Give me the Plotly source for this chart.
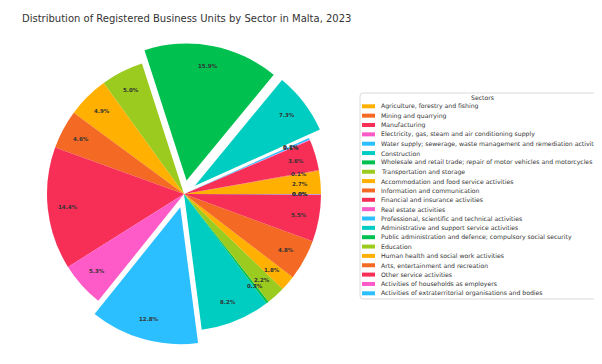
import math
import plotly.graph_objects as go

# ---------------- data ----------------
sectors = [
    "Agriculture, forestry and fishing",
    "Mining and quarrying",
    "Manufacturing",
    "Electricity, gas, steam and air conditioning supply",
    "Water supply; sewerage, waste management and remediation activities",
    "Construction",
    "Wholesale and retail trade; repair of motor vehicles and motorcycles",
    "Transportation and storage",
    "Accommodation and food service activities",
    "Information and communication",
    "Financial and insurance activities",
    "Real estate activities",
    "Professional, scientific and technical activities",
    "Administrative and support service activities",
    "Public administration and defence; compulsory social security",
    "Education",
    "Human health and social work activities",
    "Arts, entertainment and recreation",
    "Other service activities",
    "Activities of households as employers",
    "Activities of extraterritorial organisations and bodies",
]
shares = [2.7, 0.1, 3.6, 0.1, 0.2, 7.3, 15.9, 5.0, 4.9, 4.6, 14.4,
          5.3, 12.8, 8.2, 0.3, 2.2, 1.8, 4.8, 5.5, 0.04, 0.04]
exploded = ["Construction",
            "Wholesale and retail trade; repair of motor vehicles and motorcycles",
            "Professional, scientific and technical activities"]
legend_title = "Sectors"
chart_title = "Distribution of Registered Business Units by Sector in Malta, 2023"

# ---------------- style ----------------
palette = ["#FFB000", "#F46A25", "#F72F56", "#FF5BC8",
           "#2BBFFF", "#00CDC2", "#00C050", "#9BCB1F"]
colors = [palette[i % len(palette)] for i in range(len(sectors))]
pull_amt = 0.1
pulls = [pull_amt if s in exploded else 0 for s in sectors]

W, H = 602, 364
cx, cy, R = 176, 186, 137          # pie centre / radius in px
half = R * (1 + max(pulls))        # plotly shrinks radius by (1 + max pull)
pct_dist = 0.85
FONT = "DejaVu Sans"
LEG_FS = 6.15

total = sum(shares)
# first slice should start at 3 o'clock and run counter-clockwise
rot = 90 - 360 * shares[0] / total

fig = go.Figure(go.Pie(
    labels=sectors, values=shares, sort=False,
    direction="counterclockwise", rotation=rot,
    pull=pulls, marker=dict(colors=colors, line=dict(width=0)),
    textinfo="none", hoverinfo="label+percent",
    domain=dict(x=[(cx - half) / W, (cx + half) / W],
                y=[1 - (cy + half) / H, 1 - (cy - half) / H]),
    showlegend=False,
))

annotations = []
shapes = []

# percentage labels
cum = 0.0
for v, p in zip(shares, pulls):
    mid = 2 * math.pi * (cum + v / 2) / total
    cum += v
    rr = (pct_dist + p) * R
    px = cx + rr * math.cos(mid)
    py = cy - rr * math.sin(mid)
    annotations.append(dict(
        x=px / W, y=1 - py / H, xref="paper", yref="paper",
        text="<b>%.1f%%</b>" % (100 * v / total), showarrow=False,
        font=dict(family=FONT, size=5.5, color="#333333"),
        xanchor="center", yanchor="middle"))

# title
annotations.append(dict(
    x=12 / W, y=1 - 10 / H, xref="paper", yref="paper", text=chart_title,
    showarrow=False, xanchor="left", yanchor="middle",
    font=dict(family=FONT, size=10, color="#333333")))

# legend frame
lx0, lx1, ly0, ly1, rad = 352, 597, 85, 291, 3
path = (f"M {lx0+rad},{ly0} L {lx1-rad},{ly0} Q {lx1},{ly0} {lx1},{ly0+rad} "
        f"L {lx1},{ly1-rad} Q {lx1},{ly1} {lx1-rad},{ly1} L {lx0+rad},{ly1} "
        f"Q {lx0},{ly1} {lx0},{ly1-rad} L {lx0},{ly0+rad} Q {lx0},{ly0} {lx0+rad},{ly0} Z")
def to_paper_path(p):
    out = []
    for tok in p.split(" "):
        if "," in tok:
            a, b = tok.split(",")
            out.append(f"{float(a)/W:.5f},{1-float(b)/H:.5f}")
        else:
            out.append(tok)
    return " ".join(out)
shapes.append(dict(type="path", xref="paper", yref="paper", path=to_paper_path(path),
                   line=dict(color="#DADADA", width=1), fillcolor="white", layer="below"))

annotations.append(dict(
    x=(lx0 + lx1) / 2 / W, y=1 - 89.5 / H, xref="paper", yref="paper",
    text=legend_title, showarrow=False, xanchor="center", yanchor="middle",
    font=dict(family=FONT, size=LEG_FS, color="#333333")))

y_first, step = 98.3, 9.35
for i, (name, col) in enumerate(zip(sectors, colors)):
    yy = y_first + i * step
    shapes.append(dict(type="rect", xref="paper", yref="paper",
                       x0=354 / W, x1=367 / W, y0=1 - (yy - 2.0) / H, y1=1 - (yy + 2.0) / H,
                       fillcolor=col, line=dict(width=0)))
    annotations.append(dict(
        x=371 / W, y=1 - yy / H, xref="paper", yref="paper", text=name,
        showarrow=False, xanchor="left", yanchor="middle",
        font=dict(family=FONT, size=LEG_FS, color="#333333")))

fig.update_layout(
    width=W, height=H, margin=dict(l=0, r=0, t=0, b=0),
    paper_bgcolor="white", plot_bgcolor="white",
    annotations=annotations, shapes=shapes, showlegend=False,
)

fig.write_html("out.html")
